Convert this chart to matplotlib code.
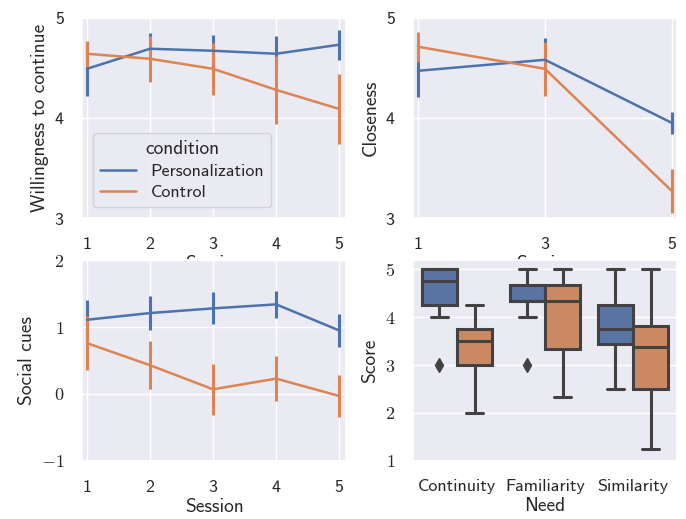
import colorsys
import numpy as np
import matplotlib
matplotlib.use("Agg")
import matplotlib.pyplot as plt
import matplotlib.colors as mcolors
from matplotlib.lines import Line2D
from matplotlib.ticker import FuncFormatter
import seaborn as sns

# данные
conditions = ["Personalization", "Control"]
sessions = [1, 2, 3, 4, 5]
sessions_close = [1, 3, 5]

will_mean = {"Personalization": [4.49, 4.69, 4.67, 4.64, 4.73],
             "Control": [4.64, 4.59, 4.49, 4.28, 4.09]}
will_err = {"Personalization": [0.27, 0.16, 0.16, 0.18, 0.15],
            "Control": [0.13, 0.23, 0.26, 0.34, 0.35]}

close_mean = {"Personalization": [4.47, 4.58, 3.95],
              "Control": [4.71, 4.49, 3.27]}
close_err = {"Personalization": [0.26, 0.22, 0.11],
             "Control": [0.15, 0.27, 0.22]}

cues_mean = {"Personalization": [1.11, 1.21, 1.28, 1.34, 0.95],
             "Control": [0.76, 0.43, 0.07, 0.23, -0.03]}
cues_err = {"Personalization": [0.30, 0.25, 0.24, 0.20, 0.25],
            "Control": [0.40, 0.36, 0.38, 0.34, 0.32]}

needs = ["Continuity", "Familiarity", "Similarity"]
box_whislo = {"Personalization": [4.0, 4.0, 2.5], "Control": [2.0, 2.33, 1.25]}
box_q1 = {"Personalization": [4.25, 4.33, 3.44], "Control": [3.0, 3.33, 2.5]}
box_med = {"Personalization": [4.75, 4.33, 3.75], "Control": [3.5, 4.33, 3.38]}
box_q3 = {"Personalization": [5.0, 4.67, 4.25], "Control": [3.75, 4.67, 3.81]}
box_whishi = {"Personalization": [5.0, 5.0, 5.0], "Control": [4.25, 5.0, 5.0]}
box_fliers = {"Personalization": [[3.0], [3.0], []], "Control": [[], [], []]}

sns.set_theme(style="darkgrid")
plt.rcParams['font.family'] = ['cmss10', 'DejaVu Sans']
plt.rcParams['mathtext.fontset'] = 'cm'
plt.rcParams['axes.unicode_minus'] = False
plt.rcParams['axes.formatter.use_mathtext'] = True
plt.rcParams['xtick.major.pad'] = 7
plt.rcParams['ytick.major.pad'] = 6.5

colors = {"Personalization": "#4C72B0", "Control": "#DD8452"}
TICK = 13
LAB = 14


def desat(c, prop=0.75):
    h, l, s = colorsys.rgb_to_hls(*mcolors.to_rgb(c))
    return colorsys.hls_to_rgb(h, l, s * prop)


fig, axes = plt.subplots(2, 2, figsize=(6.86, 5.19), dpi=100)
fig.subplots_adjust(left=0.1195, right=0.987, top=0.966, bottom=0.112,
                    wspace=0.253, hspace=0.209)


def line_panel(ax, x, means, errs):
    for c in conditions:
        ax.errorbar(x, means[c], yerr=errs[c], color=colors[c], lw=1.8,
                    elinewidth=2.2, capsize=0, label=c)
    ax.set_xticks(x)
    ax.set_xlabel("Session", fontsize=LAB, labelpad=2)
    ax.tick_params(labelsize=TICK)


ax = axes[0, 0]
line_panel(ax, sessions, will_mean, will_err)
ax.set_xlim(0.92, 5.11)
ax.set_ylim(3, 5)
ax.set_yticks([3, 4, 5])
ax.set_ylabel("Willingness to continue", fontsize=LAB)
handles = [Line2D([], [], color=colors[c], lw=1.8) for c in conditions]
ax.legend(handles, conditions, title="condition", loc="lower left",
          fontsize=13, title_fontsize=14, bbox_to_anchor=(0.0, 0.0),
          borderpad=0.4, labelspacing=0.3, borderaxespad=0.6)

ax = axes[0, 1]
line_panel(ax, sessions_close, close_mean, close_err)
ax.set_xlim(0.92, 5.08)
ax.set_ylim(3, 5)
ax.set_yticks([3, 4, 5])
ax.set_ylabel("Closeness", fontsize=LAB)

ax = axes[1, 0]
line_panel(ax, sessions, cues_mean, cues_err)
ax.set_xlim(0.92, 5.11)
ax.set_ylim(-1, 2)
ax.set_yticks([-1, 0, 1, 2])
ax.yaxis.set_major_formatter(FuncFormatter(lambda v, p: r"$%d$" % v))
ax.set_ylabel("Social cues", fontsize=LAB)

# боксплоты
ax = axes[1, 1]
gray = "#424242"
w = 0.4
for j, c in enumerate(conditions):
    stats = []
    for i in range(len(needs)):
        stats.append(dict(whislo=box_whislo[c][i], q1=box_q1[c][i],
                          med=box_med[c][i], q3=box_q3[c][i],
                          whishi=box_whishi[c][i], fliers=box_fliers[c][i]))
    pos = np.arange(len(needs)) + (j - 0.5) * w
    bp = ax.bxp(stats, positions=pos, widths=w * 0.98, patch_artist=True,
                manage_ticks=False,
                boxprops=dict(facecolor=desat(colors[c]), edgecolor=gray, lw=2.2),
                medianprops=dict(color=gray, lw=2.2),
                whiskerprops=dict(color=gray, lw=2.2),
                capprops=dict(color=gray, lw=2.2),
                flierprops=dict(marker="d", markerfacecolor=gray,
                                markeredgecolor=gray, markersize=7))
    for cap in bp["caps"]:
        x0, x1 = cap.get_xdata()
        m = (x0 + x1) / 2
        cap.set_xdata([m - w * 0.25, m + w * 0.25])
ax.set_xticks(range(len(needs)))
ax.set_xticklabels(needs)
ax.set_xlim(-0.5, 2.5)
ax.set_ylim(1, 5.19)
ax.set_yticks([1, 2, 3, 4, 5])
ax.yaxis.set_major_formatter(FuncFormatter(lambda v, p: r"$%d$" % v))
ax.grid(False, axis="x")
ax.set_xlabel("Need", fontsize=LAB, labelpad=2)
ax.set_ylabel("Score", fontsize=LAB)
ax.tick_params(labelsize=TICK)

fig.savefig("out.png", dpi=100)
